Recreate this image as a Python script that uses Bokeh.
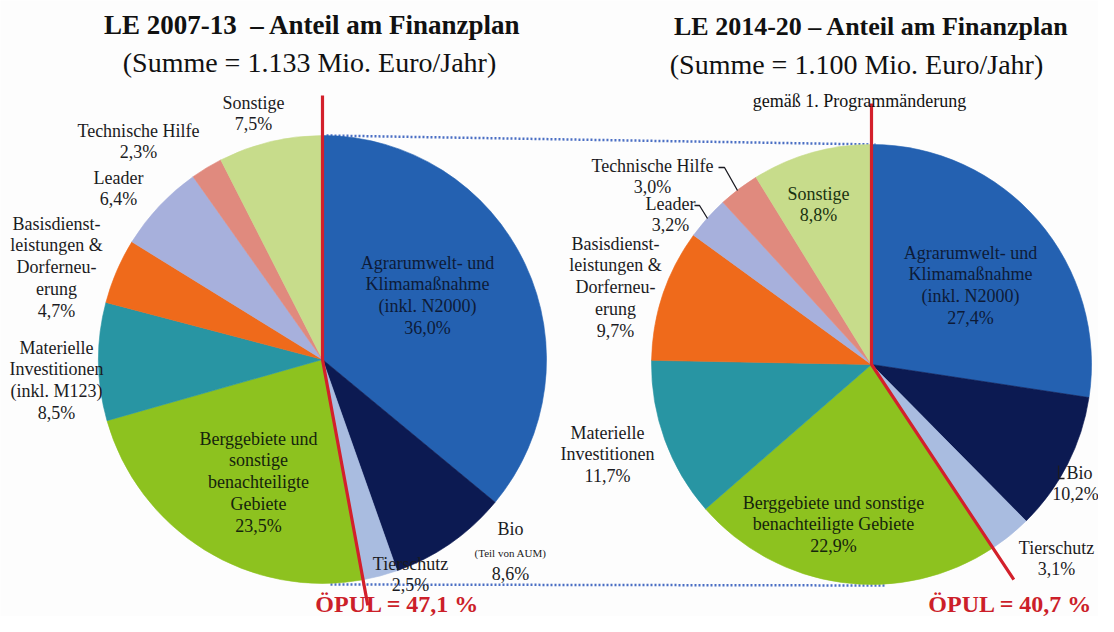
import numpy as np
from bokeh.plotting import figure
from bokeh.models import ColumnDataSource, Range1d
from bokeh.core.properties import value
from bokeh.embed import file_html
from bokeh.resources import INLINE

# ---------------- data ----------------
categories = ["Agrarumwelt- und Klimamaßnahme (inkl. N2000)", "Bio", "Tierschutz",
              "Berggebiete und sonstige benachteiligte Gebiete", "Materielle Investitionen",
              "Basisdienstleistungen & Dorferneuerung", "Leader", "Technische Hilfe", "Sonstige"]
share_0713 = [36.0, 8.6, 2.5, 23.5, 8.5, 4.7, 6.4, 2.3, 7.5]
share_1420 = [27.4, 10.2, 3.1, 22.9, 11.7, 9.7, 3.2, 3.0, 8.8]
opul_count = 3                      # first three categories form ÖPUL
opul_share = [47.1, 40.7]
titles = ["LE 2007-13\u00a0\u00a0– Anteil am Finanzplan", "LE 2014-20 – Anteil am Finanzplan"]
subtitles = ["(Summe = 1.133 Mio. Euro/Jahr)", "(Summe = 1.100 Mio. Euro/Jahr)"]
note_1420 = "gemäß 1. Programmänderung"
names_0713 = [["Agrarumwelt- und", "Klimamaßnahme", "(inkl. N2000)"], ["Bio", "(Teil von AUM)"],
              ["Tierschutz"], ["Berggebiete und", "sonstige", "benachteiligte", "Gebiete"],
              ["Materielle", "Investitionen", "(inkl. M123)"],
              ["Basisdienst-", "leistungen &", "Dorferneu-", "erung"], ["Leader"],
              ["Technische Hilfe"], ["Sonstige"]]
names_1420 = [["Agrarumwelt- und", "Klimamaßnahme", "(inkl. N2000)"], ["Bio"], ["Tierschutz"],
              ["Berggebiete und sonstige", "benachteiligte Gebiete"], ["Materielle", "Investitionen"],
              ["Basisdienst-", "leistungen &", "Dorferneu-", "erung"], ["Leader"],
              ["Technische Hilfe"], ["Sonstige"]]

# ---------------- styles / layout ----------------
colors = ["#2461b1", "#0c1a52", "#a9bce0", "#8dc21f", "#2895a3", "#ef6a1b", "#a7b0dc",
          "#e08a7e", "#c7dc8b"]
FONT = value("Liberation Serif")
W, H = 1098, 616

def Y(py):          # picture pixel y -> data y
    return H - py

p = figure(width=W, height=H, x_range=Range1d(0, W), y_range=Range1d(0, H),
           output_backend="svg", toolbar_location=None, min_border=0)
p.axis.visible = False
p.grid.visible = False
p.outline_line_color = None
p.background_fill_color = "#fdfdfd"
p.border_fill_color = "#fdfdfd"

pies = [
    dict(cx=322, cy=359, r=224, shares=share_0713, names=names_0713, top=95, red_len=250,
         pos=[(427, 262), (510, 528), (410, 563), (258, 438), (56, 347), (56, 223), (118, 177),
              (138, 130), (253, 102)],
         title_xy=(312, 24), title_size=27, sub_xy=(309, 62), opul_xy=(397, 603)),
    dict(cx=871, cy=364, r=220, shares=share_1420, names=names_1420, top=103, red_len=258,
         pos=[(970, 252), (1077, 472), (1056, 547), (833, 502), (607, 432), (615, 243),
              (670, 203), (652, 165), (818, 193)],
         title_xy=(871, 26), title_size=26, sub_xy=(856, 64), opul_xy=(1010, 603)),
]
inner_color = {0: "#0d1b38", 3: "#15240c"}
STEP = 21.8

def pct(v):
    return f"{v:.1f}".replace(".", ",") + "%"

txt = dict(x=[], y=[], text=[], size=[], color=[])

def add_text(x, py, s, size, color):
    txt["x"].append(x); txt["y"].append(Y(py)); txt["text"].append(s)
    txt["size"].append(f"{size}px"); txt["color"].append(color)

# dotted connector lines (drawn first)
a, b = pies
p.line([a["cx"] + 4, b["cx"] + 4], [Y(a["cy"] - a["r"]), Y(b["cy"] - b["r"])],
       line_color="#4b6fc4", line_width=2.5, line_dash="2 2")
p.line([a["cx"] + 8, b["cx"] + 14], [Y(a["cy"] + a["r"]) - 1, Y(b["cy"] + b["r"]) - 1],
       line_color="#4b6fc4", line_width=2.5, line_dash="2 2")

for k, pie in enumerate(pies):
    sh = np.array(pie["shares"], dtype=float)
    frac = sh / sh.sum()
    cum = np.concatenate([[0], np.cumsum(frac)])
    start = np.pi / 2 - 2 * np.pi * cum[1:]
    end = np.pi / 2 - 2 * np.pi * cum[:-1]
    src = ColumnDataSource(dict(start=start, end=end, color=colors, cat=categories))
    p.wedge(x=pie["cx"], y=Y(pie["cy"]), radius=pie["r"], start_angle="start", end_angle="end",
            direction="anticlock", fill_color="color", line_color="color", line_width=0.6,
            source=src)
    # red ÖPUL line
    th = 2 * np.pi * cum[opul_count]
    L = pie["red_len"]
    p.line([pie["cx"], pie["cx"], pie["cx"] + L * np.sin(th)],
           [Y(pie["top"]), Y(pie["cy"]), Y(pie["cy"]) + L * np.cos(th)],
           line_color="#d3202b", line_width=3.2, line_join="miter")
    # labels
    for i, (lines, (lx, ly)) in enumerate(zip(pie["names"], pie["pos"])):
        col = inner_color.get(i, "#1b1b22")
        if k == 1 and i == 8:
            col = "#1a3210"
        if k == 0 and i == 1:
            add_text(lx, ly, lines[0], 18, col)
            add_text(lx, ly + 24, lines[1], 11, col)
            add_text(lx, ly + 45, pct(pie["shares"][i]), 18, col)
            continue
        if k == 1 and i == 1:
            add_text(lx + 2, ly, lines[0], 18, col)
            add_text(lx - 2, ly + STEP, pct(pie["shares"][i]), 18, col)
            continue
        for j, s in enumerate(lines):
            add_text(lx, ly + j * STEP, s, 18, col)
        add_text(lx, ly + len(lines) * STEP, pct(pie["shares"][i]), 18, col)

# leader lines for small slices (2014-20)
for xs, ys in [([718, 724, 737], [167, 167, 190]),
               ([694, 699, 707], [205, 205, 218]),
               ([1058, 1058, 1064], [465, 478, 478])]:
    p.line(xs, [Y(v) for v in ys], line_color="#1b1b22", line_width=1.3)

p.text(x="x", y="y", text="text", text_font_size="size", text_color="color",
       text_font=FONT, text_align="center", text_baseline="middle",
       source=ColumnDataSource(txt))

# titles
for k, pie in enumerate(pies):
    p.text(x=[pie["title_xy"][0]], y=[Y(pie["title_xy"][1])], text=[titles[k]],
           text_font=FONT, text_font_size=f"{pie['title_size']}px", text_font_style="bold",
           text_color="#111111", text_align="center", text_baseline="middle")
    p.text(x=[pie["sub_xy"][0]], y=[Y(pie["sub_xy"][1])], text=[subtitles[k]],
           text_font=FONT, text_font_size="28px", text_color="#111111",
           text_align="center", text_baseline="middle")
    p.text(x=[pie["opul_xy"][0]], y=[Y(pie["opul_xy"][1])],
           text=["ÖPUL = " + f"{opul_share[k]:.1f}".replace(".", ",") + " %"],
           text_font=FONT, text_font_size="24px", text_font_style="bold", text_color="#cc1f2a",
           text_align="center", text_baseline="middle")

p.text(x=[859], y=[Y(100)], text=[note_1420], text_font=FONT, text_font_size="18px",
       text_color="#111111", text_align="center", text_baseline="middle")

open("out.html", "w").write(file_html(p, INLINE))
